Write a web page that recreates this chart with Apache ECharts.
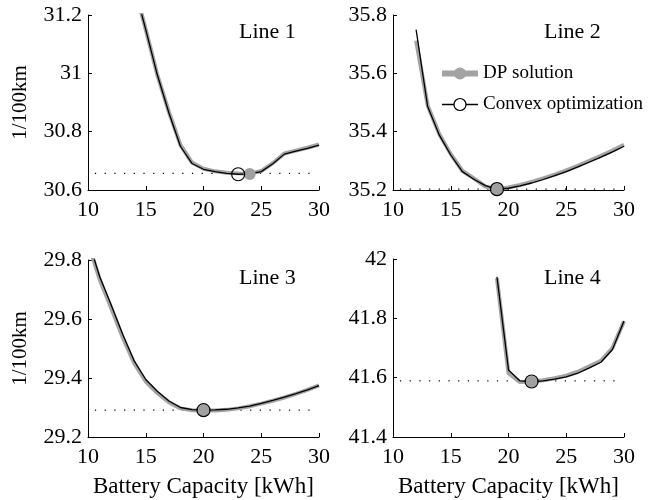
<!DOCTYPE html>
<html>
<head>
<meta charset="utf-8">
<script src="https://cdn.jsdelivr.net/npm/echarts@6/dist/echarts.min.js"></script>
<style>html,body{margin:0;padding:0;background:#fff}#c{width:652px;height:500px}</style>
</head>
<body>
<div id="c"></div>
<script>
// ---- data ----
const capacity = [10,11,12,13,14,15,16,17,18,19,20,21,22,23,24,25,26,27,28,29,30];
const panelNames = ['Line 1','Line 2','Line 3','Line 4'];
const yMin = [30.6, 35.2, 29.2, 41.4];
const yMax = [31.2, 35.8, 29.8, 42.0];
const yTickStep = 0.2;
const xTicks = [10, 15, 20, 25, 30];

const dp1  = [null,null,null,null,31.30,31.15,30.995,30.868,30.755,30.694,30.673,30.664,30.659,30.657,30.656,30.665,30.692,30.725,30.735,30.745,30.756];
const cvx1 = [null,null,null,null,31.30,31.15,30.995,30.865,30.750,30.691,30.671,30.663,30.657,30.654,30.655,30.663,30.690,30.723,30.733,30.743,30.754];
const dp2  = [null,null,35.712,35.490,35.392,35.323,35.266,35.240,35.212,35.202,35.209,35.217,35.228,35.240,35.253,35.267,35.283,35.300,35.317,35.335,35.355];
const cvx2 = [null,null,35.750,35.486,35.389,35.320,35.263,35.237,35.215,35.203,35.206,35.214,35.224,35.236,35.249,35.263,35.279,35.296,35.313,35.331,35.350];
const dp3  = [29.86,29.735,29.638,29.538,29.450,29.388,29.349,29.318,29.297,29.291,29.290,29.290,29.292,29.297,29.304,29.313,29.323,29.334,29.346,29.360,29.375];
const cvx3 = [29.87,29.745,29.648,29.548,29.458,29.395,29.355,29.322,29.300,29.293,29.291,29.292,29.294,29.299,29.305,29.314,29.324,29.335,29.347,29.360,29.374];
const dp4  = [null,null,null,null,null,null,null,null,null,41.935,41.615,41.585,41.586,41.591,41.598,41.607,41.620,41.638,41.657,41.700,41.790];
const cvx4 = [null,null,null,null,null,null,null,null,null,41.940,41.626,41.589,41.587,41.589,41.595,41.603,41.615,41.633,41.652,41.695,41.791];

const dpOptX  = [24, 19, 20, 22];
const dpOptY  = [30.655, 35.202, 29.290, 41.586];
const cvxOptX = [23, 19, 20, 22];
const cvxOptY = [30.654, 35.203, 29.291, 41.587];
const minLevel = [30.657, 35.203, 29.291, 41.589];
const minLineX = [10.6, 29.5];

// ---- build ----
const dpAll = [dp1, dp2, dp3, dp4];
const cvxAll = [cvx1, cvx2, cvx3, cvx4];
const FONT = 'Liberation Serif';
const grids = [
  {left: 88, top: 15, width: 231, height: 175},
  {left: 393, top: 15, width: 231, height: 175},
  {left: 88, top: 260, width: 231, height: 177},
  {left: 393, top: 259, width: 231, height: 178}
];
const titlePos = [
  {left: 239, top: 21}, {left: 544, top: 21},
  {left: 239, top: 267}, {left: 544, top: 267}
];
function pairs(arr){ const out=[]; arr.forEach((v,i)=>{ if(v!==null) out.push([capacity[i], v]); }); return out; }

const xAxes = [], yAxes = [], series = [], titles = [];
for (let k = 0; k < 4; k++) {
  const bottom = k >= 2, left = (k % 2) === 0;
  xAxes.push({
    type: 'value', gridIndex: k, min: xTicks[0], max: xTicks[xTicks.length-1], interval: 5,
    axisLine: {lineStyle: {color: '#000', width: 1}},
    axisTick: {inside: true, length: 4, lineStyle: {color: '#000'}},
    axisLabel: {color: '#000', fontFamily: FONT, fontSize: 22, margin: 9},
    splitLine: {show: false},
    name: bottom ? 'Battery Capacity [kWh]' : '',
    nameLocation: 'middle', nameGap: 38,
    nameTextStyle: {color: '#000', fontFamily: FONT, fontSize: 23}
  });
  yAxes.push({
    type: 'value', gridIndex: k, min: yMin[k], max: yMax[k], interval: yTickStep,
    axisLine: {show: true, lineStyle: {color: '#000', width: 1}},
    axisTick: {show: true, inside: true, length: 4, lineStyle: {color: '#000'}},
    axisLabel: {color: '#000', fontFamily: FONT, fontSize: 22, margin: 6},
    splitLine: {show: false},
    name: left ? '1/100km' : '',
    nameLocation: 'middle', nameGap: 57,
    nameTextStyle: {color: '#000', fontFamily: FONT, fontSize: 21}
  });
  titles.push({text: panelNames[k], left: titlePos[k].left, top: titlePos[k].top, padding: 0,
    textStyle: {color: '#000', fontFamily: FONT, fontSize: 22, fontWeight: 'normal'}});

  series.push({
    name: 'DP solution', type: 'line', xAxisIndex: k, yAxisIndex: k,
    data: pairs(dpAll[k]), symbol: 'none', z: 2,
    lineStyle: {color: '#a3a3a3', width: 4}, itemStyle: {color: '#a3a3a3'}
  });
  series.push({
    name: 'Convex optimization', type: 'line', xAxisIndex: k, yAxisIndex: k,
    data: pairs(cvxAll[k]), symbol: 'none', z: 3,
    lineStyle: {color: '#000', width: 1.3}, itemStyle: {color: '#000'}
  });
  series.push({
    name: 'min', type: 'line', xAxisIndex: k, yAxisIndex: k,
    data: minLineX.map(x => [x, minLevel[k]]), symbol: 'none', z: 1,
    lineStyle: {color: '#000', width: 1.2, type: [1.2, 8.5]}
  });
  series.push({
    name: 'DP opt', type: 'scatter', xAxisIndex: k, yAxisIndex: k,
    data: [[dpOptX[k], dpOptY[k]]], symbol: 'circle', symbolSize: 12, z: 4,
    itemStyle: {color: '#a0a0a0', opacity: 1}
  });
  series.push({
    name: 'Convex opt', type: 'scatter', xAxisIndex: k, yAxisIndex: k,
    data: [[cvxOptX[k], cvxOptY[k]]], symbol: 'circle', symbolSize: 13, z: 5,
    itemStyle: {color: 'rgba(0,0,0,0)', borderColor: '#000', borderWidth: 1.2, opacity: 1}
  });
}

const chart = echarts.init(document.getElementById('c'), null, {renderer: 'canvas'});
chart.setOption({
  animation: false,
  backgroundColor: '#fff',
  title: titles,
  grid: grids,
  xAxis: xAxes,
  yAxis: yAxes,
  legend: {
    orient: 'vertical', left: 439, top: 64, padding: 0, itemGap: 12,
    itemWidth: 36, itemHeight: 15, selectedMode: false,
    textStyle: {color: '#000', fontFamily: FONT, fontSize: 19, lineHeight: 18},
    data: [
      {name: 'DP solution', itemStyle: {color: '#a3a3a3'}, lineStyle: {color: '#a3a3a3', width: 6}},
      {name: 'Convex optimization', itemStyle: {color: '#fff', borderColor: '#000', borderWidth: 1.2}, lineStyle: {color: '#000', width: 1.3}}
    ]
  },
  series: series
});
</script>
</body>
</html>
